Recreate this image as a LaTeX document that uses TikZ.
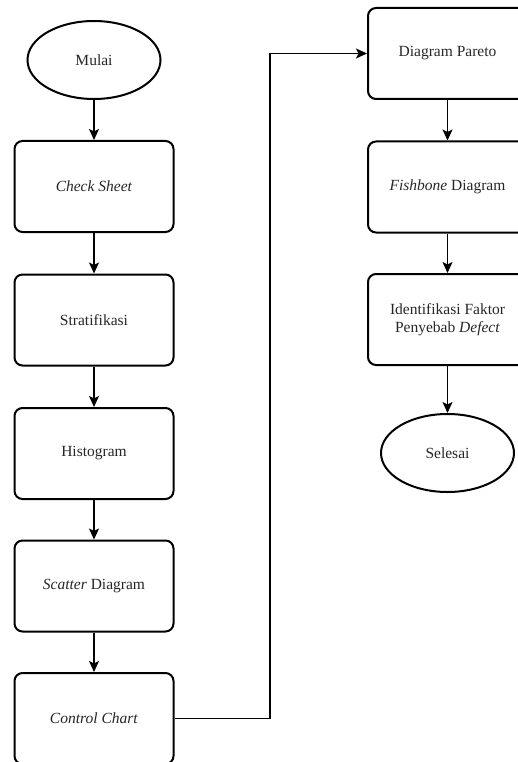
\documentclass[tikz,border=0pt]{standalone}
\usepackage{fontspec}
\setmainfont{Liberation Serif}
\usetikzlibrary{shapes.geometric,arrows.meta}
\begin{document}
\begin{tikzpicture}[x=1pt,y=-1pt,
  every node/.style={font=\fontsize{15.5}{18.5}\selectfont, text=black!85},
  procbox/.style={draw, line width=2pt, rounded corners=8pt,
    minimum width=159pt, minimum height=91pt, align=center, inner sep=2pt},
  terminal/.style={draw, ellipse, line width=2pt,
    minimum width=133pt, minimum height=78pt, inner sep=1pt},
  flow/.style={line width=1.2pt, -{Stealth[length=11pt,width=10pt,inset=2.5pt]}}
]
\useasboundingbox (0,0) rectangle (518,762);
\clip (0,0) rectangle (518,762);

% left column
\node[terminal] (mulai) at (94,60) {Mulai};
\node[procbox] (cs) at (94,186.5) {\textit{Check Sheet}};
\node[procbox] (st) at (94,320) {Stratifikasi};
\node[procbox] (hi) at (94,453.5) {Histogram};
\node[procbox] (sc) at (94,586) {\textit{Scatter} Diagram};
\node[procbox] (cc) at (94,718.5) {\textit{Control Chart}};

% right column
\node[procbox] (pa) at (447.5,53.5) {Diagram Pareto};
\node[procbox] (fi) at (447.5,187) {\textit{Fishbone} Diagram};
\node[procbox] (id) at (447.5,319.5) {Identifikasi Faktor\\Penyebab \textit{Defect}};
\node[terminal] (selesai) at (447.5,453) {Selesai};

% connectors
\draw[flow] (mulai) -- (cs);
\draw[flow] (cs) -- (st);
\draw[flow] (st) -- (hi);
\draw[flow] (hi) -- (sc);
\draw[flow] (sc) -- (cc);

\coordinate (bend) at (270,0);
\draw[flow] (cc.east) -- (cc.east -| bend) |- (pa.west);

\draw[flow] (pa) -- (fi);
\draw[flow] (fi) -- (id);
\draw[flow] (id) -- (selesai);
\end{tikzpicture}
\end{document}
